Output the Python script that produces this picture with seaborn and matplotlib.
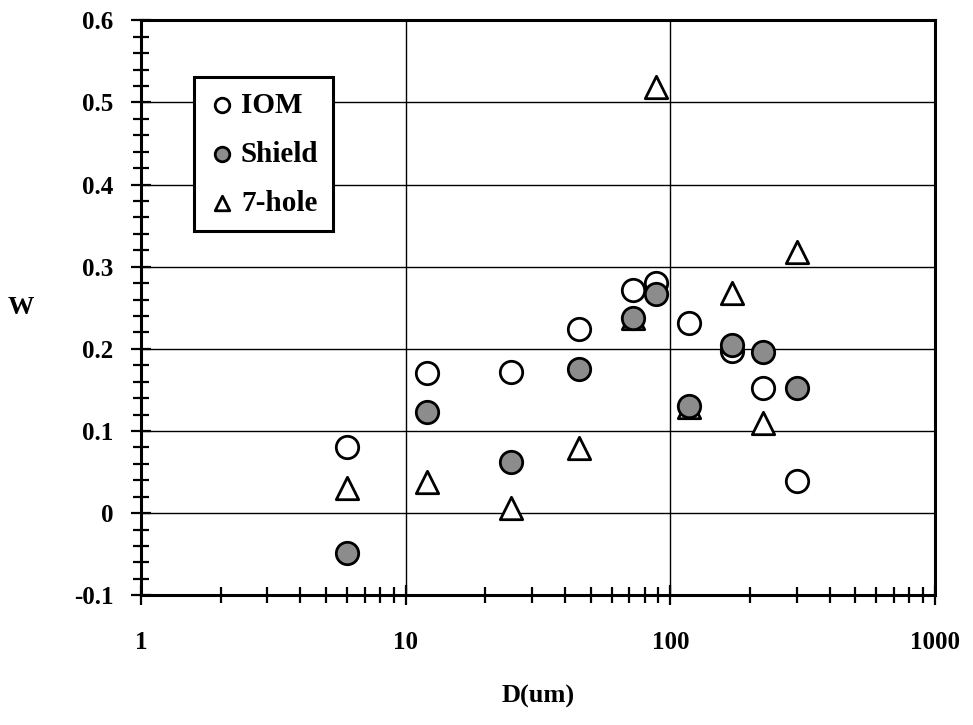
import matplotlib
matplotlib.use("Agg")
import matplotlib.pyplot as plt
import seaborn as sns
import pandas as pd
from matplotlib.ticker import FixedLocator, LogLocator, NullFormatter, MultipleLocator

# ---- data ----
D = [6, 12, 25, 45, 72, 88, 118, 171, 224, 301]
W_IOM = [0.080, 0.170, 0.172, 0.224, 0.272, 0.280, 0.231, 0.197, 0.152, 0.039]
W_Shield = [-0.049, 0.123, 0.062, 0.175, 0.238, 0.267, 0.130, 0.205, 0.196, 0.152]
W_7hole = [0.030, 0.038, 0.006, 0.079, 0.237, 0.519, 0.129, 0.268, 0.110, 0.318]
series = ["IOM", "Shield", "7-hole"]
x_ticks = [1, 10, 100, 1000]
x_ticklabels = ["1", "10", "100", "1000"]
y_ticks = [-0.1, 0, 0.1, 0.2, 0.3, 0.4, 0.5, 0.6]
y_ticklabels = ["-0.1", "0", "0.1", "0.2", "0.3", "0.4", "0.5", "0.6"]

df = pd.DataFrame({
    "D": D * 3,
    "W": W_IOM + W_Shield + W_7hole,
    "Sampler": [series[0]] * len(D) + [series[1]] * len(D) + [series[2]] * len(D),
})

sns.set_theme(style="white")
plt.rcParams["font.family"] = ["Liberation Serif", "DejaVu Serif"]
plt.rcParams["font.weight"] = "bold"
plt.rcParams["text.color"] = "black"
plt.rcParams["axes.labelcolor"] = "black"
plt.rcParams["xtick.color"] = "black"
plt.rcParams["ytick.color"] = "black"

fig = plt.figure(figsize=(9.73, 7.25), dpi=100)
ax = fig.add_axes([0.145, 0.179, 0.816, 0.793])

styles = {
    "IOM": dict(marker="o", facecolor="white"),
    "Shield": dict(marker="o", facecolor="#8c8c8c"),
    "7-hole": dict(marker="^", facecolor="white"),
}
for name in ["7-hole", "IOM", "Shield"]:
    sub = df[df["Sampler"] == name]
    sns.scatterplot(data=sub, x="D", y="W", ax=ax, marker=styles[name]["marker"],
                    s=260, facecolor=styles[name]["facecolor"], edgecolor="black",
                    linewidth=2.0, zorder=3, label=name)

ax.set_xscale("log")
ax.set_xlim(1, 1000)
ax.set_ylim(-0.1, 0.6)

ax.xaxis.set_major_locator(FixedLocator(x_ticks))
ax.set_xticklabels(x_ticklabels)
ax.xaxis.set_minor_locator(LogLocator(base=10, subs=range(2, 10)))
ax.xaxis.set_minor_formatter(NullFormatter())
ax.yaxis.set_major_locator(FixedLocator(y_ticks))
ax.set_yticklabels(y_ticklabels)
ax.yaxis.set_minor_locator(MultipleLocator(0.02))

ax.grid(True, which="major", color="black", linewidth=1.0, zorder=1)
ax.set_axisbelow(True)
for sp in ax.spines.values():
    sp.set_color("black")
    sp.set_linewidth(2.2)

ax.tick_params(axis="both", which="both", direction="inout", color="black",
               width=1.6, bottom=True, left=True, top=False, right=False)
ax.tick_params(axis="y", which="major", length=14, pad=13, labelsize=18, labelcolor="black")
ax.tick_params(axis="y", which="minor", length=12)
ax.tick_params(axis="x", which="major", length=14, pad=19, labelsize=18, labelcolor="black")
ax.tick_params(axis="x", which="minor", length=12)
for lab in ax.get_xticklabels() + ax.get_yticklabels():
    lab.set_fontweight("bold")

ax.set_xlabel("D(um)", fontsize=19, fontweight="bold", labelpad=22, color="black")
ax.set_ylabel("W", fontsize=19, fontweight="bold", rotation=0, labelpad=38, va="center",
              color="black")

handles, labels = ax.get_legend_handles_labels()
order = [labels.index(n) for n in series]
leg = ax.legend([handles[i] for i in order], [labels[i] for i in order],
                loc="upper left", bbox_to_anchor=(0.067, 0.901), borderaxespad=0,
                frameon=True, fancybox=False, edgecolor="black", framealpha=1,
                prop={"weight": "bold", "size": 21}, handletextpad=0.2,
                markerscale=0.65, borderpad=0.5, labelspacing=0.75, handlelength=0.9)
leg.get_frame().set_linewidth(2.2)
leg.set_zorder(5)
for t in leg.get_texts():
    t.set_color("black")

fig.savefig("out.png", dpi=100, facecolor="white")
